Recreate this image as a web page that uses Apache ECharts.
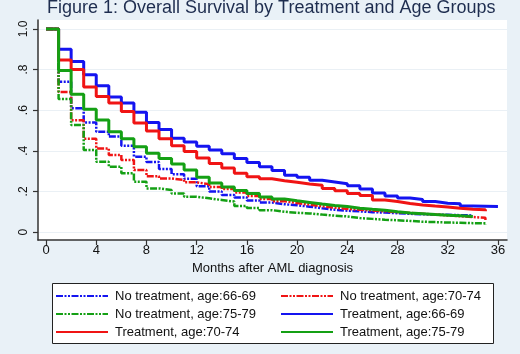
<!DOCTYPE html>
<html>
<head>
<meta charset="utf-8">
<script src="https://cdn.jsdelivr.net/npm/echarts@6/dist/echarts.min.js"></script>
<style>
  html, body { margin: 0; padding: 0; background: #e9f1f7; }
  #chart { width: 520px; height: 354px; }
</style>
</head>
<body>
<div id="chart"></div>
<script>
// survival estimates, one value per month starting at month 0
const seriesNames = [
    'No treatment, age:66-69', 'No treatment, age:70-74', 'No treatment, age:75-79',
    'Treatment, age:66-69', 'Treatment, age:70-74', 'Treatment, age:75-79'
];
const noTreat6669 = [1.0, .74, .61, .54, .494, .47, .425, .371, .345, .31, .285, .262, .225, .2, .182, .17, .155, .145, .137, .132, .125, .117, .11, .105, .102, .098, .096, .093, .09, .088, .086, .085, .083, .082, .08];
const noTreat7074 = [1.0, .69, .55, .46, .412, .379, .355, .305, .275, .264, .256, .245, .236, .222, .212, .195, .178, .163, .152, .143, .135, .127, .12, .114, .11, .106, .102, .098, .094, .09, .086, .082, .078, .074, .07, .06];
const noTreat7579 = [1.0, .655, .527, .404, .346, .322, .289, .248, .215, .207, .19, .174, .166, .158, .15, .128, .118, .108, .1, .095, .092, .086, .081, .077, .069, .065, .061, .058, .055, .051, .049, .047, .046, .044, .043, .035];
const treat6669 = [1.0, .90, .84, .775, .72, .665, .635, .59, .54, .505, .462, .443, .422, .404, .385, .362, .342, .322, .303, .28, .27, .255, .247, .238, .228, .212, .192, .178, .168, .16, .15, .142, .14, .128, .127, .126, .125];
const treat7074 = [1.0, .847, .80, .714, .667, .635, .593, .537, .497, .46, .425, .397, .365, .337, .315, .29, .272, .262, .253, .245, .237, .23, .215, .203, .19, .18, .158, .15, .141, .133, .128, .124, .117, .112, .11, .103];
const treat7579 = [1.0, .795, .678, .605, .552, .494, .46, .42, .388, .362, .335, .305, .27, .242, .222, .205, .19, .173, .163, .154, .146, .138, .131, .126, .117, .112, .108, .10, .094, .09, .086, .083, .08, .077, .075];

const xTicks = [0, 4, 8, 12, 16, 20, 24, 28, 32, 36];
const yTicks = [0, 0.2, 0.4, 0.6, 0.8, 1.0];
const yTickLabels = ['0', '.2', '.4', '.6', '.8', '1.0'];

const allValues = [noTreat6669, noTreat7074, noTreat7579, treat6669, treat7074, treat7579];
const colors = ['#1414f0', '#f01414', '#14a014', '#1414f0', '#f01414', '#14a014'];
const dashed = [true, true, true, false, false, false];

const chart = echarts.init(document.getElementById('chart'));
const font = 'Liberation Sans, Arial, sans-serif';

const series = allValues.map((vals, i) => ({
    name: seriesNames[i],
    type: 'line',
    step: 'end',
    symbol: 'none',
    data: vals.map((v, m) => [m, v]),
    lineStyle: {
        color: colors[i],
        width: dashed[i] ? 2.5 : 3,
        type: dashed[i] ? [7, 1.5, 2, 1.5, 2, 1.5] : 'solid',
        cap: 'butt'
    },
    itemStyle: { color: colors[i] },
    z: dashed[i] ? 2 : 3
}));

function legendAt(left, names) {
    return {
        orient: 'vertical',
        left: left,
        top: 289,
        padding: 0,
        itemWidth: 52,
        itemHeight: 14,
        itemGap: 4,
        data: names,
        // hide the circle that line series put in the middle of the legend line
        itemStyle: { opacity: 0, borderWidth: 0 },
        textStyle: { fontFamily: font, fontSize: 13, color: '#111', padding: [0, 0, 0, 2], lineHeight: 14 }
    };
}

chart.setOption({
    animation: false,
    backgroundColor: '#e9f1f7',
    title: {
        text: 'Figure 1: Overall Survival by Treatment and Age Groups',
        left: 47,
        top: -1,
        padding: 0,
        textStyle: { fontFamily: font, fontSize: 18, fontWeight: 'normal', color: '#1e2d4f' }
    },
    graphic: [{
        type: 'rect',
        shape: { x: 52.5, y: 283.5, width: 441, height: 60 },
        style: { fill: '#fff', stroke: '#222', lineWidth: 1 },
        z: -1
    }],
    legend: [
        legendAt(55, [seriesNames[0], seriesNames[2], seriesNames[4]]),
        legendAt(280, [seriesNames[1], seriesNames[3], seriesNames[5]])
    ],
    grid: {
        left: 38, right: 13, top: 20, bottom: 114,
        show: true, backgroundColor: '#fff', borderWidth: 0,
        containLabel: false, outerBoundsMode: 'none'
    },
    xAxis: {
        type: 'value',
        min: -0.64,
        max: 36.72,
        name: 'Months after AML diagnosis',
        nameLocation: 'middle',
        nameGap: 19,
        nameTextStyle: { fontFamily: font, fontSize: 13, color: '#111' },
        axisLine: { show: true, onZero: false, lineStyle: { color: '#333', width: 1.5 } },
        axisTick: { show: true, length: 5, customValues: xTicks, lineStyle: { color: '#333', width: 1.2 } },
        axisLabel: { customValues: xTicks, margin: 4, fontFamily: font, fontSize: 13, color: '#111' },
        splitLine: { show: false }
    },
    yAxis: {
        type: 'value',
        min: -0.039,
        max: 1.044,
        axisLine: { show: true, onZero: false, lineStyle: { color: '#333', width: 1.5 } },
        axisTick: { show: true, length: 5, customValues: yTicks, lineStyle: { color: '#333', width: 1.2 } },
        axisLabel: {
            customValues: yTicks,
            rotate: 90,
            margin: 8,
            fontFamily: font,
            fontSize: 12,
            color: '#111',
            formatter: v => {
                const k = yTicks.findIndex(t => Math.abs(t - v) < 1e-6);
                return k >= 0 ? yTickLabels[k] : '';
            }
        },
        splitLine: { show: true, lineStyle: { color: '#eaf0f5', width: 1 } }
    },
    series: series
});
</script>
</body>
</html>
